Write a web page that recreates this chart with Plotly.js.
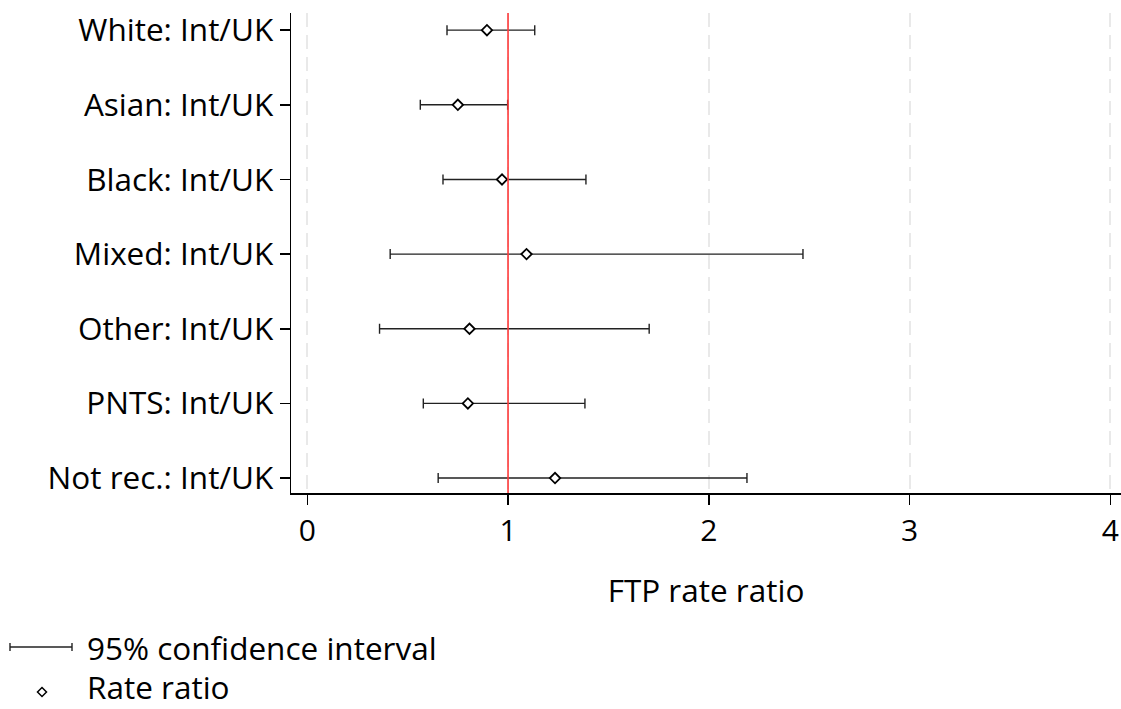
<!DOCTYPE html>
<html>
<head>
<meta charset="utf-8">
<script src="https://cdn.plot.ly/plotly-3.0.1.min.js"></script>
<style>html,body{margin:0;padding:0;background:#fff;}#chart{width:1121px;height:709px;}</style>
</head>
<body>
<div id="chart"></div>
<script>
const categories = ["White: Int/UK", "Asian: Int/UK", "Black: Int/UK", "Mixed: Int/UK", "Other: Int/UK", "PNTS: Int/UK", "Not rec.: Int/UK"];
const rateRatio = [0.895, 0.750, 0.970, 1.092, 0.808, 0.800, 1.234];
const ciLower   = [0.696, 0.563, 0.676, 0.413, 0.360, 0.578, 0.652];
const ciUpper   = [1.133, 0.998, 1.388, 2.469, 1.703, 1.383, 2.190];
const xTicks = [0, 1, 2, 3, 4];
const referenceValue = 1;

const rows = categories.map((c, i) => i + 1);
const FONT = "'Open Sans', Lato, 'DejaVu Sans', sans-serif";
const FS = 31.5;

const trace = {
  type: "scatter",
  mode: "markers",
  x: rateRatio,
  y: rows,
  marker: {symbol: "diamond", size: 8, color: "#ffffff", line: {color: "#000000", width: 1.8}},
  error_x: {
    type: "data", symmetric: false,
    array: rateRatio.map((v, i) => ciUpper[i] - v),
    arrayminus: rateRatio.map((v, i) => v - ciLower[i]),
    color: "#222222", thickness: 1.4, width: 5
  },
  showlegend: false,
  hoverinfo: "x+y"
};

const legX1 = (10 - 291) / 830, legX2 = (72 - 291) / 830;
const legY1 = (493 - 647) / 480, legY2 = (493 - 692) / 480;

const layout = {
  width: 1121, height: 709,
  margin: {l: 291, r: 0, t: 13, b: 216},
  paper_bgcolor: "#ffffff", plot_bgcolor: "#ffffff",
  font: {family: FONT, color: "#000000", size: FS},
  showlegend: false,
  xaxis: {
    range: [-0.081, 4.053],
    tickvals: xTicks,
    ticktext: xTicks.map(String),
    ticks: "outside", ticklen: 10, tickwidth: 1.5, tickcolor: "#000",
    showline: true, linecolor: "#000", linewidth: 1.5,
    showgrid: true, gridcolor: "#e9e9e9", gridwidth: 2, griddash: "14px,8px",
    zeroline: false,
    tickfont: {size: 30, family: FONT},
    title: {text: "FTP rate ratio", font: {size: FS, family: FONT}, standoff: 31}
  },
  yaxis: {
    range: [7.2, 0.77],
    tickvals: rows,
    ticktext: categories,
    ticks: "outside", ticklen: 10, tickwidth: 1.5, tickcolor: "#000",
    showline: true, linecolor: "#000", linewidth: 1.5,
    showgrid: false, zeroline: false,
    tickfont: {size: FS, family: FONT}
  },
  shapes: [
    {type: "line", xref: "x", yref: "paper", x0: referenceValue, x1: referenceValue, y0: 0, y1: 1,
     line: {color: "#ff3b3b", width: 1.6}, layer: "above"},
    {type: "line", xref: "paper", yref: "paper", x0: legX1, x1: legX2, y0: legY1, y1: legY1, line: {color: "#222", width: 1.4}},
    {type: "line", xref: "paper", yref: "paper", xsizemode: "scaled", ysizemode: "pixel", yanchor: legY1,
     x0: legX1, x1: legX1, y0: -4, y1: 4, line: {color: "#222", width: 1.4}},
    {type: "line", xref: "paper", yref: "paper", xsizemode: "scaled", ysizemode: "pixel", yanchor: legY1,
     x0: legX2, x1: legX2, y0: -4, y1: 4, line: {color: "#222", width: 1.4}},
    {type: "path", xref: "paper", yref: "paper", xsizemode: "pixel", ysizemode: "pixel",
     xanchor: (42 - 291) / 830, yanchor: legY2,
     path: "M 0 4.5 L 4.5 0 L 0 -4.5 L -4.5 0 Z",
     fillcolor: "#ffffff", line: {color: "#000", width: 1.5}}
  ],
  annotations: [
    {xref: "paper", yref: "paper", x: (86 - 291) / 830, y: legY1, xanchor: "left", yanchor: "middle",
     text: "95% confidence interval", showarrow: false, borderpad: 0, font: {size: FS, family: FONT}},
    {xref: "paper", yref: "paper", x: (86 - 291) / 830, y: (493 - 686) / 480, xanchor: "left", yanchor: "middle",
     text: "Rate ratio", showarrow: false, borderpad: 0, font: {size: FS, family: FONT}}
  ]
};

Plotly.newPlot("chart", [trace], layout, {displayModeBar: false, staticPlot: true});
</script>
</body>
</html>
